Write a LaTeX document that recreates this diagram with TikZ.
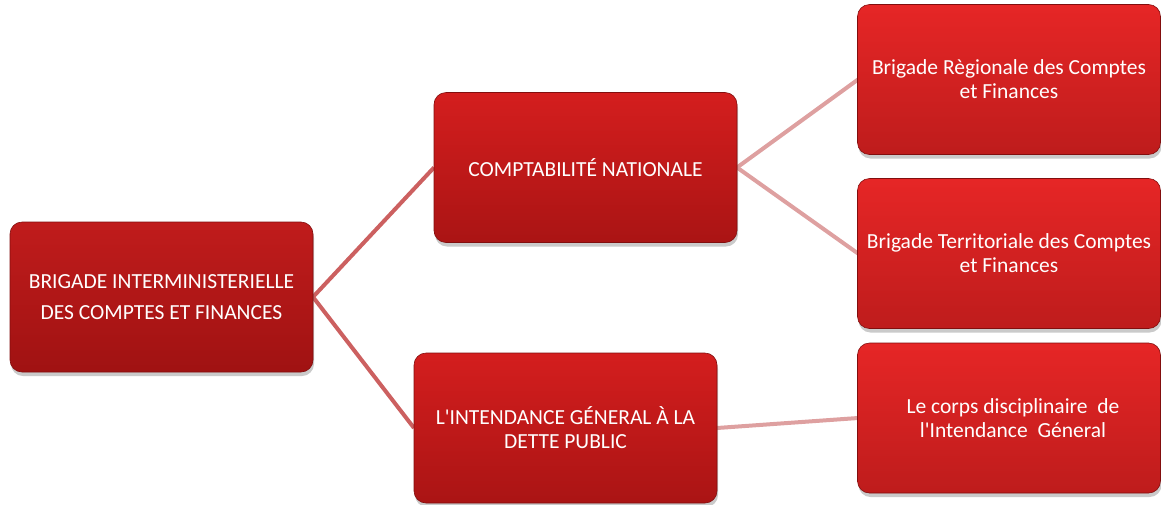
\documentclass[tikz,border=0pt]{standalone}
\usepackage{fontspec}
\setmainfont{Carlito}[Ligatures=TeXOff]
\usetikzlibrary{shadows}
\definecolor{rootTop}{RGB}{192,28,28}
\definecolor{rootBot}{RGB}{160,18,18}
\definecolor{midTop}{RGB}{212,30,30}
\definecolor{midBot}{RGB}{170,20,20}
\definecolor{leafTop}{RGB}{230,38,38}
\definecolor{leafBot}{RGB}{190,28,28}
\definecolor{edgeRed}{RGB}{130,14,14}
\definecolor{linkDark}{RGB}{204,96,96}
\definecolor{linkLight}{RGB}{222,160,160}
\begin{document}
\begin{tikzpicture}[x=1pt,y=-1pt,
  box/.style={rectangle, rounded corners=12pt, minimum width=303pt, minimum height=150pt,
    inner sep=3pt, text=white, align=center, font=\fontsize{21.5}{24}\selectfont,
    draw=edgeRed, line width=0.6pt,
    drop shadow={shadow xshift=1pt, shadow yshift=-4pt, opacity=0.35, fill=black!60}},
  rootbox/.style={box, top color=rootTop, bottom color=rootBot},
  midbox/.style={box, top color=midTop, bottom color=midBot},
  leafbox/.style={box, top color=leafTop, bottom color=leafBot},
  linkA/.style={draw=linkDark, line width=4pt},
  linkB/.style={draw=linkLight, line width=4pt}]
\useasboundingbox (0,0) rectangle (1161,504);

% connectors (behind the boxes)
\coordinate (r) at (313,297);
\coordinate (cnL) at (434,167.5);
\coordinate (cnR) at (737,167.5);
\coordinate (igL) at (414,428);
\coordinate (igR) at (717,428);
\coordinate (brcL) at (858,79.5);
\coordinate (btcL) at (858,253.5);
\coordinate (cdL) at (858,418);
\draw[linkA] (r) -- (cnL);
\draw[linkA] (r) -- (igL);
\draw[linkB] (cnR) -- (brcL);
\draw[linkB] (cnR) -- (btcL);
\draw[linkB] (igR) -- (cdL);

% boxes
\node[rootbox] (root) at (161.5,297) {BRIGADE INTERMINISTERIELLE\\[7pt]DES COMPTES ET FINANCES};
\node[midbox] (cn) at (585.5,167.5) {COMPTABILITÉ NATIONALE};
\node[midbox] (ig) at (565.5,428) {L'INTENDANCE GÉNERAL À LA\\DETTE PUBLIC};
\node[leafbox] (brc) at (1009,79.5) {Brigade Règionale des Comptes\\et Finances};
\node[leafbox] (btc) at (1009,253.5) {Brigade Territoriale des Comptes\\et Finances};
\node[leafbox] (cd) at (1009,418) {\hspace*{8pt}Le corps disciplinaire\ \ de\\\hspace*{8pt}l'Intendance\ \ Géneral};
\end{tikzpicture}
\end{document}
